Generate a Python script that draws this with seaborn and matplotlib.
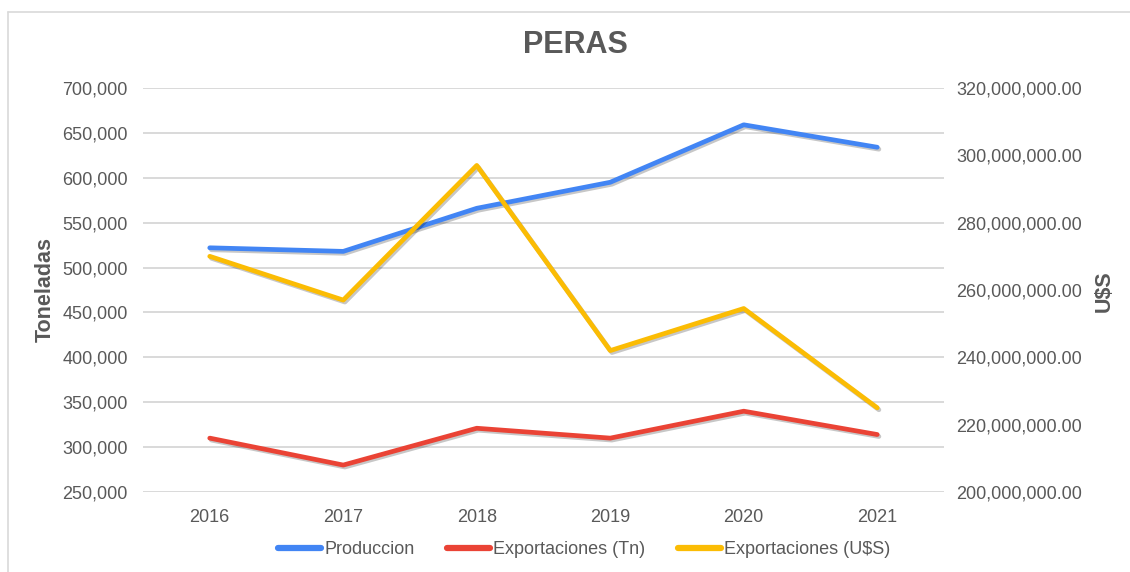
import matplotlib
matplotlib.use("Agg")
import matplotlib.pyplot as plt
import matplotlib.patheffects as pe
from matplotlib.ticker import FuncFormatter, MultipleLocator
from matplotlib.lines import Line2D
import seaborn as sns
import pandas as pd

# ---- data ----
years = ["2016", "2017", "2018", "2019", "2020", "2021"]
produccion = [522000, 518000, 566000, 595000, 659000, 634000]
export_tn = [310000, 280000, 321000, 310000, 340000, 314000]
export_usd = [270000000, 257000000, 297000000, 242000000, 254500000, 225000000]

series_names = ["Produccion", "Exportaciones (Tn)", "Exportaciones (U$S)"]
colors = ["#4285F4", "#EA4335", "#FBBC04"]

sns.set_theme(style="white")
plt.rcParams["font.family"] = ["Liberation Sans", "DejaVu Sans"]

TXT = "#595959"
W, H = 1130, 572
fig = plt.figure(figsize=(W / 100, H / 100), dpi=100)
ax = fig.add_axes([143 / W, 1 - 492 / H, (944 - 143) / W, (492 - 88) / H])
ax2 = ax.twinx()

df_left = pd.DataFrame({
    "year": years * 2,
    "value": produccion + export_tn,
    "serie": [series_names[0]] * 6 + [series_names[1]] * 6,
})
df_right = pd.DataFrame({"year": years, "value": export_usd})

shadow = [pe.SimpleLineShadow(offset=(1.2, -1.4), alpha=0.22, shadow_color="black"), pe.Normal()]

sns.lineplot(data=df_left, x="year", y="value", hue="serie",
             palette=colors[:2], ax=ax, linewidth=3.4, legend=False, sort=False)
sns.lineplot(data=df_right, x="year", y="value", color=colors[2],
             ax=ax2, linewidth=3.4, legend=False, sort=False)
for a in (ax, ax2):
    for ln in a.get_lines():
        ln.set_path_effects(shadow)
        ln.set_solid_capstyle("round")
        ln.set_solid_joinstyle("round")

ax.set_xlim(-0.5, 5.5)
ax.set_ylim(250000, 700000)
ax.yaxis.set_major_locator(MultipleLocator(50000))
ax2.set_ylim(200000000, 320000000)
ax2.yaxis.set_major_locator(MultipleLocator(20000000))

ax.yaxis.set_major_formatter(FuncFormatter(lambda v, p: f"{v:,.0f}"))
ax2.yaxis.set_major_formatter(FuncFormatter(lambda v, p: f"{v:,.2f}"))

ax.grid(axis="y", color="#d9d9d9", linewidth=1.4)
ax.grid(axis="x", visible=False)
ax2.grid(False)
ax.set_axisbelow(True)
for a in (ax, ax2):
    for s in a.spines.values():
        s.set_visible(False)

ax.tick_params(axis="y", length=0, pad=11, labelsize=13, labelcolor=TXT)
ax.tick_params(axis="x", length=0, pad=12, labelsize=13, labelcolor=TXT)
ax2.tick_params(axis="y", length=0, pad=9, labelsize=13, labelcolor=TXT)

ax.set_xlabel("")
ax.set_ylabel("")
ax2.set_ylabel("")
fig.text(45 / W, 1 - 289 / H, "Toneladas", rotation=90, ha="center", va="center",
         fontsize=15.5, fontweight="bold", color=TXT)
fig.text(1104 / W, 1 - 291 / H, "U$S", rotation=90, ha="center", va="center",
         fontsize=15.5, fontweight="bold", color=TXT)
fig.text(575 / W, 1 - 45 / H, "PERAS", ha="center", va="center",
         fontsize=22, fontweight="bold", color=TXT)

handles = [Line2D([0], [0], color=c, linewidth=4.5, solid_capstyle="round") for c in colors]
fig.legend(handles, series_names, loc="center", bbox_to_anchor=(584 / W, 1 - 550 / H),
           ncol=3, frameon=False, fontsize=13, handlelength=2.4, handletextpad=0.15,
           columnspacing=1.8, labelcolor=TXT)

# chart border (left and top)
fig.add_artist(Line2D([8 / W, 8 / W], [0, 1 - 12 / H], color="#d9d9d9", linewidth=1.2,
                      transform=fig.transFigure))
fig.add_artist(Line2D([8 / W, 1], [1 - 12 / H, 1 - 12 / H], color="#d9d9d9", linewidth=1.2,
                      transform=fig.transFigure))

fig.savefig("out.png", dpi=100)
